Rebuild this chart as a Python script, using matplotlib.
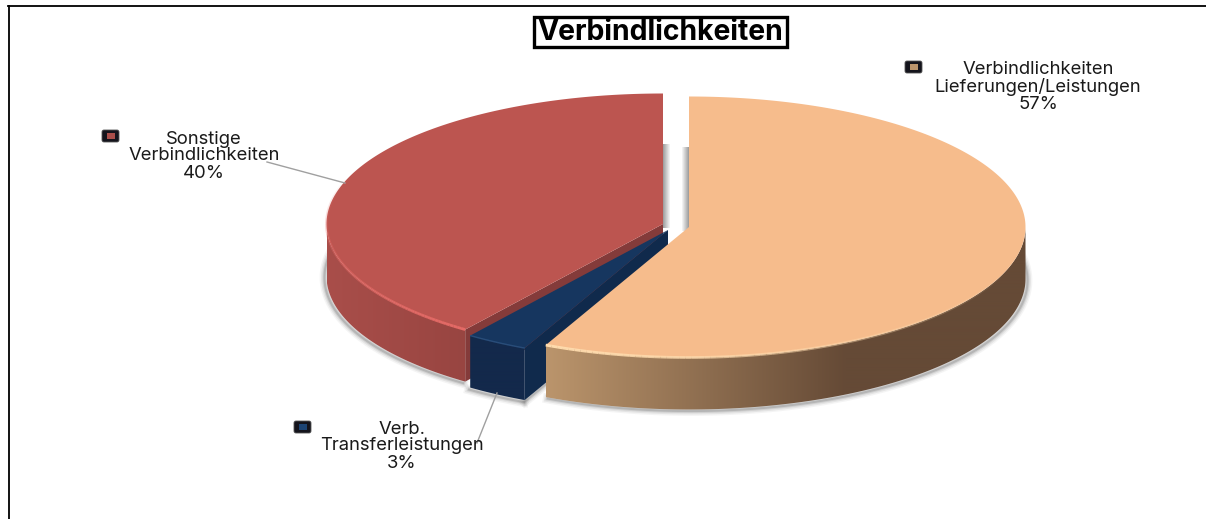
import matplotlib
matplotlib.use('Agg')
import matplotlib.pyplot as plt
import numpy as np
from matplotlib.colors import to_rgb
from matplotlib.patches import FancyBboxPatch, Polygon, Rectangle

plt.rcParams['font.family'] = ['Inter', 'Liberation Sans', 'DejaVu Sans']

# Slices in drawing direction (clockwise from 12 o'clock)
labels = ['Verbindlichkeiten\nLieferungen/Leistungen', 'Verb.\nTransferleistungen', 'Sonstige\nVerbindlichkeiten']
shares = [57, 3, 40]
top_colors = ['#f6bc8c', '#16365f', '#bc5550']
edge_colors = ['#ffdcae', '#2a5585', '#e56a66']
radial_colors = ['#8a6544', '#102a4c', '#843b3a']
wall_left = ['#bb956c', '#13294b', '#a94e4a']
wall_right = ['#654a36', '#13294b', '#984541']

# exploded centres in pixels
centres = [(689, 227), (668, 230), (663, 224)]
RX, RY, DEPTH = 336.5, 130.5, 52
W, H = 1206, 519

fig = plt.figure(figsize=(W / 100, H / 100), dpi=100)
ax = fig.add_axes([0, 0, 1, 1])
ax.axis('off')


def arc(c, t0, t1, n=120, dy=0):
    t = np.radians(np.linspace(t0, t1, n))
    return np.column_stack([c[0] + RX * np.sin(t), c[1] - RY * np.cos(t) + dy])


def mix(a, b, f):
    a, b = np.array(to_rgb(a)), np.array(to_rgb(b))
    return a + (b - a) * f


# frame, only top and left are in the picture
ax.plot([8, W], [6, 6], color='black', lw=1.3)
ax.plot([8.5, 8.5], [6, H], color='black', lw=1.3)

# shadows in the gap at the back
for i in range(8):
    c = mix('#a0a0a0', '#ffffff', i / 7)
    ax.add_patch(Rectangle((663 + i, 144), 1, 84, color=c, lw=0, zorder=1))
    ax.add_patch(Rectangle((688 - i, 147), 1, 84, color=c, lw=0, zorder=1))

ends = np.cumsum(shares) * 3.6
starts = ends - np.array(shares) * 3.6

# soft shadow along the bottom edges
for width, alpha in [(7, 0.08), (5, 0.12), (3, 0.18), (1.5, 0.3)]:
    s = arc(centres[0], 80, ends[0], dy=DEPTH)
    ax.plot(s[:, 0] + 2, s[:, 1] + 1.5, color='#777777', lw=width, alpha=alpha, zorder=2)
    s = arc(centres[2], starts[2], 285, dy=DEPTH)
    ax.plot(s[:, 0] - 2, s[:, 1] + 1.5, color='#777777', lw=width, alpha=alpha, zorder=2)
    s = arc(centres[1], starts[1], ends[1], dy=DEPTH)
    ax.plot(s[:, 0] - 1, s[:, 1] + 2, color='#777777', lw=width, alpha=alpha, zorder=2)
    # under the cut face of the blue slice
    p = arc(centres[1], starts[1], starts[1], n=1, dy=DEPTH)[0]
    cb = np.array(centres[1]) + [0, DEPTH]
    q = p + (cb - p) * 0.17
    ax.plot([p[0], q[0]], [p[1] + 1.5, q[1] + 1.5], color='#777777', lw=width, alpha=alpha, zorder=2)

# back to front: red, blue, peach
for z, i in enumerate([2, 1, 0]):
    c = centres[i]
    zb = 3 + z * 5
    a0, a1 = starts[i], ends[i]

    # radial cut face that is visible next to the neighbour
    if i != 0:
        p = arc(c, a0, a0, n=1)[0]
        ax.add_patch(Polygon([c, p, (p[0], p[1] + DEPTH), (c[0], c[1] + DEPTH)],
                             closed=True, fc=radial_colors[i], ec='none', zorder=zb))

    # outer wall, only the front half of the ellipse, with a gradient clipped to it
    pts = arc(c, max(a0, 90), min(a1, 270), n=300)
    wall = Polygon(np.vstack([pts, pts[::-1] + [0, DEPTH]]), closed=True, fc='none', ec='none',
                   transform=ax.transData)
    ax.add_patch(wall)
    xmin, xmax = pts[:, 0].min(), pts[:, 0].max()
    span = 300.0 if i == 0 else xmax - xmin
    f = np.clip((np.arange(int(xmax - xmin) + 1) + 0.5) / span, 0, 1)
    grad = np.array([[mix(wall_left[i], wall_right[i], v) for v in f]])
    im = ax.imshow(grad, extent=(xmin, xmax, pts[:, 1].max() + DEPTH + 1, pts[:, 1].min() - 1),
                   aspect='auto', zorder=zb + 1, interpolation='bilinear')
    im.set_clip_path(wall)

    # top face
    top = np.vstack([[c], arc(c, a0, a1, n=240)])
    ax.add_patch(Polygon(top, closed=True, fc=top_colors[i], ec='none', zorder=zb + 2))

    # light bevel on the front rim, fades out towards the back
    r0, r1 = (205.2, 110) if i == 0 else ((a0, a1) if i == 1 else (a0, 290))
    rim = arc(c, r0, r1, n=90)
    for k in range(len(rim) - 1):
        fade = 1 - k / (len(rim) - 1) if i != 1 else 1
        ax.plot(rim[k:k + 2, 0], rim[k:k + 2, 1], color=edge_colors[i], lw=2 if i != 1 else 1, alpha=fade,
                zorder=zb + 3, solid_capstyle='butt')

# leader lines
ax.plot([267, 345], [162, 183], color='#a0a0a0', lw=1, zorder=30)
ax.plot([497, 477], [393, 443], color='#a0a0a0', lw=1, zorder=30)

# data labels with small legend keys
label_xy = [(1038, 87), (402, 446), (204, 156)]
key_xy = [(905, 61), (294, 421), (102, 130)]
for i in range(3):
    ax.text(label_xy[i][0], label_xy[i][1], f'{labels[i]}\n{shares[i]}%', ha='center', va='center',
            fontsize=13.3, color='#1a1a1a', linespacing=1.0, zorder=40)
    kx, ky = key_xy[i]
    ax.add_patch(FancyBboxPatch((kx, ky), 17, 12, boxstyle='round,pad=0,rounding_size=2',
                                fc='#14141c', ec='#555555', lw=0.6, zorder=40))
    ax.add_patch(Rectangle((kx + 4.5, ky + 3), 8, 6, fc=wall_left[i] if i != 1 else '#1c4474', ec='none', zorder=41))

# title
ax.add_patch(Rectangle((533.5, 17), 253, 30, fc='white', ec='black', lw=2.4, zorder=40))
ax.text(660, 33, 'Verbindlichkeiten', ha='center', va='center', fontsize=20.4, fontweight='bold',
        color='black', zorder=41)

ax.set_xlim(0, W)
ax.set_ylim(H, 0)
fig.savefig('out.png', dpi=100)
